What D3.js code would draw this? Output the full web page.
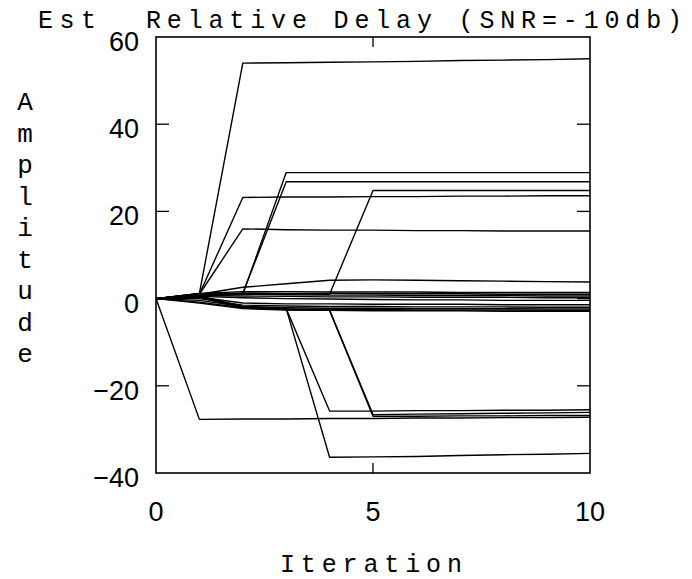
<!DOCTYPE html>
<html>
<head>
<meta charset="utf-8">
<script src="https://cdn.jsdelivr.net/npm/d3@7"></script>
<style>
  html, body { margin: 0; padding: 0; background: #fff; }
  svg { display: block; }
</style>
</head>
<body>
<svg id="chart" width="692" height="579"></svg>
<script>
// ---- data ----
const iterations = [0, 1, 2, 3, 4, 5, 6, 7, 8, 9, 10];
const xTicks = [0, 5, 10];
const yTicks = [60, 40, 20, 0, -20, -40];
const titleLead = "Est";
const titleRest = "Relative Delay (SNR=-10db)";
const xLabel = "Iteration";
const yLabel = "Amplitude";

// large-jump traces
const tr1  = [0, 1.2, 54.0, 54.1, 54.2, 54.3, 54.4, 54.6, 54.7, 54.8, 55.0];
const tr2  = [0, 1.0, 23.2, 23.3, 23.3, 23.4, 23.4, 23.5, 23.5, 23.6, 23.6];
const tr3  = [0, 1.0, 16.0, 15.8, 15.7, 15.7, 15.6, 15.6, 15.5, 15.5, 15.5];
const tr4  = [0, 1.1, 1.0, 28.9, 28.9, 28.9, 28.9, 28.9, 28.9, 28.9, 28.9];
const tr5  = [0, 1.1, 1.2, 26.8, 26.8, 26.8, 26.8, 26.8, 26.8, 26.8, 26.8];
const tr6  = [0, 1.0, 1.1, 1.1, 1.0, 24.8, 24.8, 24.8, 24.8, 24.8, 24.8];
const tr7  = [0, -27.7, -27.6, -27.6, -27.5, -27.5, -27.4, -27.4, -27.3, -27.3, -27.2];
const tr8  = [0, 0.6, -1.8, -2.3, -25.8, -25.8, -25.7, -25.7, -25.6, -25.6, -25.5];
const tr9  = [0, 0.5, -1.9, -2.3, -36.4, -36.3, -36.2, -36.0, -35.8, -35.7, -35.5];
const tr10 = [0, 0.4, -2.0, -2.5, -2.7, -26.6, -26.5, -26.4, -26.3, -26.2, -26.1];
const tr11 = [0, 0.3, -2.1, -2.5, -2.7, -27.0, -27.0, -26.9, -26.9, -26.8, -26.8];
// small traces near zero
const sm1  = [0, 1.2, 1.6, 1.6, 1.5, 1.5, 1.5, 1.4, 1.4, 1.4, 1.4];
const sm2  = [0, 1.0, 1.3, 1.2, 1.2, 1.1, 1.1, 1.1, 1.0, 1.0, 1.0];
const sm3  = [0, 0.9, 1.0, 0.9, 0.8, 0.8, 0.7, 0.7, 0.7, 0.6, 0.6];
const sm4  = [0, 0.7, 0.6, 0.5, 0.4, 0.4, 0.3, 0.3, 0.3, 0.2, 0.2];
const sm5  = [0, 0.5, 0.2, 0.0, -0.1, -0.2, -0.3, -0.3, -0.4, -0.4, -0.4];
const sm6  = [0, 0.3, -1.0, -1.2, -1.2, -1.3, -1.3, -1.3, -1.4, -1.4, -1.4];
const sm7  = [0, 0.0, -1.5, -1.7, -1.8, -1.8, -1.9, -1.9, -1.9, -2.0, -2.0];
const sm8  = [0, -0.4, -1.8, -2.1, -2.2, -2.2, -2.3, -2.3, -2.3, -2.4, -2.4];
const sm9  = [0, -0.8, -2.1, -2.4, -2.5, -2.5, -2.6, -2.6, -2.6, -2.7, -2.7];
const sm10 = [0, -1.0, -2.3, -2.6, -2.7, -2.8, -2.8, -2.8, -2.9, -2.9, -2.9];
const sm11 = [0, 1.0, 2.6, 3.4, 4.2, 4.3, 4.2, 4.1, 4.0, 3.9, 3.8];

const seriesList = [tr1, tr2, tr3, tr4, tr5, tr6, tr7, tr8, tr9, tr10, tr11,
                    sm1, sm2, sm3, sm4, sm5, sm6, sm7, sm8, sm9, sm10, sm11];

// ---- layout ----
const L = 156, R = 590, T = 37, B = 473;
const svg = d3.select("#chart");
const x = d3.scaleLinear().domain([0, 10]).range([L, R]);
const y = d3.scaleLinear().domain([-40, 60]).range([B, T]);

const monoFont = "'Liberation Mono', 'DejaVu Sans Mono', monospace";
const sansFont = "'Liberation Sans', Arial, sans-serif";

// traces
const line = d3.line().x((d, i) => x(iterations[i])).y(d => y(d));
svg.append("g").selectAll("path").data(seriesList).join("path")
  .attr("d", line)
  .attr("fill", "none")
  .attr("stroke", "#000")
  .attr("stroke-width", 1.4)
  .attr("stroke-linejoin", "round");

// frame
svg.append("rect")
  .attr("x", L).attr("y", T).attr("width", R - L).attr("height", B - T)
  .attr("fill", "none").attr("stroke", "#000").attr("stroke-width", 1.6);

// y ticks (inside, both sides)
const inner = yTicks.filter(v => v !== 60 && v !== -40);
svg.append("g").selectAll("line.l").data(inner).join("line")
  .attr("x1", L).attr("x2", L + 13)
  .attr("y1", d => y(d)).attr("y2", d => y(d))
  .attr("stroke", "#000").attr("stroke-width", 1.3);
svg.append("g").selectAll("line.r").data(inner).join("line")
  .attr("x1", R - 13).attr("x2", R)
  .attr("y1", d => y(d)).attr("y2", d => y(d))
  .attr("stroke", "#000").attr("stroke-width", 1.3);
// x ticks (inside, top and bottom)
const xin = xTicks.filter(v => v !== 0 && v !== 10);
svg.append("g").selectAll("line.b").data(xin).join("line")
  .attr("x1", d => x(d)).attr("x2", d => x(d))
  .attr("y1", B).attr("y2", B - 10)
  .attr("stroke", "#000").attr("stroke-width", 1.3);
svg.append("g").selectAll("line.t").data(xin).join("line")
  .attr("x1", d => x(d)).attr("x2", d => x(d))
  .attr("y1", T).attr("y2", T + 10)
  .attr("stroke", "#000").attr("stroke-width", 1.3);

// y tick labels
svg.append("g").selectAll("text").data(yTicks).join("text")
  .attr("x", 139)
  .attr("y", d => y(d) + 5)
  .attr("text-anchor", "end")
  .attr("dominant-baseline", "central")
  .attr("font-family", sansFont)
  .attr("font-size", 27)
  .text(d => d === 0 ? "0" : (d < 0 ? "\u2212" + Math.abs(d) : d));

// x tick labels
svg.append("g").selectAll("text").data(xTicks).join("text")
  .attr("x", d => x(d))
  .attr("y", 512)
  .attr("text-anchor", "middle")
  .attr("dominant-baseline", "central")
  .attr("font-family", sansFont)
  .attr("font-size", 27)
  .text(d => d);

// title
svg.append("text")
  .attr("x", 38).attr("y", 28)
  .attr("font-family", monoFont).attr("font-size", 25)
  .attr("textLength", 58).attr("lengthAdjust", "spacing")
  .text(titleLead);
svg.append("text")
  .attr("x", 146).attr("y", 28)
  .attr("font-family", monoFont).attr("font-size", 25)
  .attr("textLength", 536).attr("lengthAdjust", "spacing")
  .text(titleRest);

// x axis label
svg.append("text")
  .attr("x", 280).attr("y", 572)
  .attr("font-family", monoFont).attr("font-size", 25)
  .attr("textLength", 182).attr("lengthAdjust", "spacing")
  .text(xLabel);

// y axis label (stacked letters)
svg.append("g").selectAll("text").data(yLabel.split("")).join("text")
  .attr("x", 25)
  .attr("y", (d, i) => 110 + i * 31.5)
  .attr("text-anchor", "middle")
  .attr("font-family", monoFont)
  .attr("font-size", 26)
  .text(d => d);
</script>
</body>
</html>
